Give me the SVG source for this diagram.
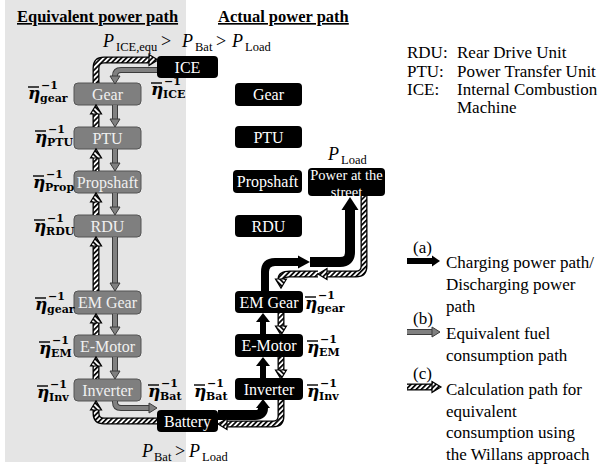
<svg xmlns="http://www.w3.org/2000/svg" width="609" height="467" viewBox="0 0 609 467">
<defs>
<style>
.bg{fill:#fff}
.panel{fill:#e5e5e5}
.gb rect{fill:#7f7f7f;stroke:#555;stroke-width:1}
.gb text{fill:#f0f0f0}
.kb rect{fill:#000}
.kb text{fill:#fff}
.bt{font-family:"Liberation Serif",serif;font-size:16px;text-anchor:middle}
.ttl{font-family:"Liberation Serif",serif;font-weight:bold;font-size:16.5px;text-decoration:underline}
.leg{font-family:"Liberation Serif",serif;font-size:17px;fill:#000}
.eta{font-family:"DejaVu Serif",serif;font-weight:bold;font-style:italic;font-size:17px}
.ss{font-family:"DejaVu Serif",serif;font-weight:bold;font-size:11px;font-style:normal}
.ob{stroke:#000;stroke-width:1.4}
.math{font-family:"Liberation Serif",serif;font-size:18px}
.mi{font-style:italic}
.ms{font-size:12.5px}
.ho{fill:none;stroke:#000;stroke-width:7}
.hi{fill:none;stroke:url(#hatch);stroke-width:4.4}
.go{fill:none;stroke:#3c3c3c;stroke-width:6}
.gi{fill:none;stroke:#808080;stroke-width:4}
.bk{fill:none;stroke:#000}
</style>
<pattern id="hatch" width="3.6" height="3.6" patternUnits="userSpaceOnUse" patternTransform="rotate(45)">
<rect width="3.6" height="3.6" fill="#fff"/><rect width="1.7" height="3.6" fill="#000"/>
</pattern>
<marker id="mh" markerUnits="userSpaceOnUse" markerWidth="12" markerHeight="14" refX="0" refY="0" orient="auto" overflow="visible">
<path d="M0,-5.5 L9,0 L0,5.5 Z" fill="url(#hatch)" stroke="#000" stroke-width="1.2"/>
</marker>
<marker id="mg" markerUnits="userSpaceOnUse" markerWidth="12" markerHeight="14" refX="0" refY="0" orient="auto" overflow="visible">
<path d="M0,-5 L8,0 L0,5 Z" fill="#808080" stroke="#3c3c3c" stroke-width="1"/>
</marker>
<marker id="mb1" markerUnits="userSpaceOnUse" markerWidth="12" markerHeight="16" refX="0" refY="0" orient="auto" overflow="visible">
<path d="M0,-7 L9,0 L0,7 Z" fill="#000"/>
</marker>
<marker id="mb2" markerUnits="userSpaceOnUse" markerWidth="14" markerHeight="16" refX="0" refY="0" orient="auto" overflow="visible">
<path d="M0,-6.5 L12,0 L0,6.5 Z" fill="#000"/>
</marker>
<marker id="mb3" markerUnits="userSpaceOnUse" markerWidth="14" markerHeight="20" refX="0" refY="0" orient="auto" overflow="visible">
<path d="M0,-8.5 L13,0 L0,8.5 Z" fill="#000"/>
</marker>
<marker id="mbl" markerUnits="userSpaceOnUse" markerWidth="10" markerHeight="14" refX="0" refY="0" orient="auto" overflow="visible">
<path d="M0,-5.5 L8,0 L0,5.5 Z" fill="#000"/>
</marker>
</defs>

<rect class="bg" x="0" y="0" width="609" height="467"/>
<rect class="panel" x="5" y="0" width="181" height="462"/>

<text class="ttl" x="17" y="22">Equivalent power path</text>
<text class="ttl" x="218" y="22">Actual power path</text>

<text class="math"><tspan class="mi" x="103" y="47">P</tspan><tspan class="ms" x="116" y="51">ICE,equ</tspan><tspan x="161" y="47">&gt;</tspan><tspan class="mi" x="182" y="47">P</tspan><tspan class="ms" x="195" y="51">Bat</tspan><tspan x="216" y="47">&gt;</tspan><tspan class="mi" x="232" y="47">P</tspan><tspan class="ms" x="245" y="51">Load</tspan></text>
<text class="math"><tspan class="mi" x="142" y="457">P</tspan><tspan class="ms" x="154" y="461">Bat</tspan><tspan x="175" y="457">&gt;</tspan><tspan class="mi" x="189" y="457">P</tspan><tspan class="ms" x="202" y="461">Load</tspan></text>
<text class="math"><tspan class="mi" x="328" y="160">P</tspan><tspan class="ms" x="341" y="164">Load</tspan></text>

<!-- Equivalent path nodes -->
<g id="ice" class="kb"><rect x="157" y="56" width="61" height="22" rx="4"/><text class="bt" x="187.5" y="72.5">ICE</text></g>
<g id="gear-eq" class="gb"><rect x="74" y="83" width="67" height="22" rx="4"/><text class="bt" x="107.5" y="99.5">Gear</text></g>
<g id="ptu-eq" class="gb"><rect x="74" y="127" width="67" height="22" rx="4"/><text class="bt" x="107.5" y="143.5">PTU</text></g>
<g id="prop-eq" class="gb"><rect x="74" y="171" width="67" height="22" rx="4"/><text class="bt" x="107.5" y="187.5">Propshaft</text></g>
<g id="rdu-eq" class="gb"><rect x="74" y="215" width="67" height="22" rx="4"/><text class="bt" x="107.5" y="231.5">RDU</text></g>
<g id="emgear-eq" class="gb"><rect x="74" y="291" width="67" height="23" rx="4"/><text class="bt" x="107.5" y="308">EM Gear</text></g>
<g id="emotor-eq" class="gb"><rect x="74" y="335" width="67" height="22" rx="4"/><text class="bt" x="107.5" y="351.5">E-Motor</text></g>
<g id="inverter-eq" class="gb"><rect x="74" y="379" width="67" height="22" rx="4"/><text class="bt" x="107.5" y="395.5">Inverter</text></g>
<g id="battery" class="kb"><rect x="157" y="410" width="61" height="22" rx="4"/><text class="bt" x="187.5" y="426.5">Battery</text></g>

<!-- Actual path nodes -->
<g id="gear-act" class="kb"><rect x="235" y="83" width="67" height="23" rx="4"/><text class="bt" x="268.5" y="100">Gear</text></g>
<g id="ptu-act" class="kb"><rect x="235" y="126" width="67" height="22" rx="4"/><text class="bt" x="268.5" y="142.5">PTU</text></g>
<g id="prop-act" class="kb"><rect x="233" y="170" width="69" height="23" rx="4"/><text class="bt" x="267.5" y="187">Propshaft</text></g>
<g id="rdu-act" class="kb"><rect x="235" y="215" width="67" height="22" rx="4"/><text class="bt" x="268.5" y="231.5">RDU</text></g>
<g id="street" class="kb"><rect x="308" y="168" width="77" height="28" rx="4"/><text class="bt" style="font-size:14.5px" x="346.5" y="180">Power at the</text><text class="bt" style="font-size:14.5px" x="346.5" y="197">street</text></g>
<g id="emgear-act" class="kb"><rect x="235" y="291" width="68" height="22" rx="4"/><text class="bt" x="269" y="307.5">EM Gear</text></g>
<g id="emotor-act" class="kb"><rect x="235" y="334" width="68" height="23" rx="4"/><text class="bt" x="269" y="351">E-Motor</text></g>
<g id="inverter-act" class="kb"><rect x="235" y="378" width="68" height="22" rx="4"/><text class="bt" x="269" y="394.5">Inverter</text></g>

<!-- efficiency labels -->
<g id="eta-labels">
<line class="ob" x1="28" y1="87" x2="39" y2="87"/><text><tspan class="eta" x="28" y="99">η</tspan><tspan class="ss" x="41" y="89">−1</tspan><tspan class="ss" x="40" y="102">gear</tspan></text>
<line class="ob" x1="151" y1="83" x2="162" y2="83"/><text><tspan class="eta" x="151" y="95">η</tspan><tspan class="ss" x="164" y="85">−1</tspan><tspan class="ss" x="163" y="98">ICE</tspan></text>
<line class="ob" x1="35" y1="131" x2="46" y2="131"/><text><tspan class="eta" x="35" y="143">η</tspan><tspan class="ss" x="48" y="133">−1</tspan><tspan class="ss" x="47" y="146">PTU</tspan></text>
<line class="ob" x1="33" y1="176" x2="44" y2="176"/><text><tspan class="eta" x="33" y="188">η</tspan><tspan class="ss" x="46" y="178">−1</tspan><tspan class="ss" x="45" y="191">Prop</tspan></text>
<line class="ob" x1="34" y1="220" x2="45" y2="220"/><text><tspan class="eta" x="34" y="232">η</tspan><tspan class="ss" x="47" y="222">−1</tspan><tspan class="ss" x="46" y="235">RDU</tspan></text>
<line class="ob" x1="35" y1="298" x2="46" y2="298"/><text><tspan class="eta" x="35" y="310">η</tspan><tspan class="ss" x="48" y="300">−1</tspan><tspan class="ss" x="47" y="313">gear</tspan></text>
<line class="ob" x1="39" y1="342" x2="50" y2="342"/><text><tspan class="eta" x="39" y="354">η</tspan><tspan class="ss" x="52" y="344">−1</tspan><tspan class="ss" x="51" y="357">EM</tspan></text>
<line class="ob" x1="37" y1="386" x2="48" y2="386"/><text><tspan class="eta" x="37" y="398">η</tspan><tspan class="ss" x="50" y="388">−1</tspan><tspan class="ss" x="49" y="401">Inv</tspan></text>
<line class="ob" x1="148" y1="385" x2="159" y2="385"/><text><tspan class="eta" x="148" y="397">η</tspan><tspan class="ss" x="161" y="387">−1</tspan><tspan class="ss" x="160" y="400">Bat</tspan></text>
<line class="ob" x1="194" y1="385" x2="205" y2="385"/><text><tspan class="eta" x="194" y="397">η</tspan><tspan class="ss" x="207" y="387">−1</tspan><tspan class="ss" x="206" y="400">Bat</tspan></text>
<line class="ob" x1="305" y1="297" x2="316" y2="297"/><text><tspan class="eta" x="305" y="309">η</tspan><tspan class="ss" x="318" y="299">−1</tspan><tspan class="ss" x="317" y="312">gear</tspan></text>
<line class="ob" x1="307" y1="341" x2="318" y2="341"/><text><tspan class="eta" x="307" y="353">η</tspan><tspan class="ss" x="320" y="343">−1</tspan><tspan class="ss" x="319" y="356">EM</tspan></text>
<line class="ob" x1="307" y1="385" x2="318" y2="385"/><text><tspan class="eta" x="307" y="397">η</tspan><tspan class="ss" x="320" y="387">−1</tspan><tspan class="ss" x="319" y="400">Inv</tspan></text>
</g>

<!-- connectors -->
<g id="connectors">
<path class="ho" d="M96,83 V68 Q96,60 104,60 H149"/><path class="hi" d="M96,83 V68 Q96,60 104,60 H149" marker-end="url(#mh)"/>
<path class="ho" d="M96,127 V114"/><path class="hi" d="M96,127 V114" marker-end="url(#mh)"/>
<path class="ho" d="M96,171 V158"/><path class="hi" d="M96,171 V158" marker-end="url(#mh)"/>
<path class="ho" d="M96,215 V202"/><path class="hi" d="M96,215 V202" marker-end="url(#mh)"/>
<path class="ho" d="M96,291 V246"/><path class="hi" d="M96,291 V246" marker-end="url(#mh)"/>
<path class="ho" d="M96,335 V323"/><path class="hi" d="M96,335 V323" marker-end="url(#mh)"/>
<path class="ho" d="M96,379 V366"/><path class="hi" d="M96,379 V366" marker-end="url(#mh)"/>
<path class="ho" d="M157,421 H104 Q96,421 96,413 V410"/><path class="hi" d="M157,421 H104 Q96,421 96,413 V410" marker-end="url(#mh)"/>
<path class="go" d="M157,70 H121 Q115,70 115,76"/><path class="gi" d="M157,70 H121 Q115,70 115,76" marker-end="url(#mg)"/>
<path class="go" d="M115,105 V119"/><path class="gi" d="M115,105 V119" marker-end="url(#mg)"/>
<path class="go" d="M115,149 V163"/><path class="gi" d="M115,149 V163" marker-end="url(#mg)"/>
<path class="go" d="M115,193 V207"/><path class="gi" d="M115,193 V207" marker-end="url(#mg)"/>
<path class="go" d="M115,237 V283"/><path class="gi" d="M115,237 V283" marker-end="url(#mg)"/>
<path class="go" d="M115,314 V327"/><path class="gi" d="M115,314 V327" marker-end="url(#mg)"/>
<path class="go" d="M115,357 V371"/><path class="gi" d="M115,357 V371" marker-end="url(#mg)"/>
<path class="go" d="M115,401 V402 Q115,408 121,408 H149"/><path class="gi" d="M115,401 V402 Q115,408 121,408 H149" marker-end="url(#mg)"/>
<path class="bk" stroke-width="10" d="M218,415 H255 Q263,415 263,408" marker-end="url(#mb1)"/>
<path class="bk" stroke-width="6" d="M263,378 V366" marker-end="url(#mb1)"/>
<path class="bk" stroke-width="6" d="M263,334 V322" marker-end="url(#mb1)"/>
<path class="bk" stroke-width="8" d="M265,291 V272 Q265,262 275,262 H298" marker-end="url(#mb2)"/>
<path class="bk" stroke-width="10" d="M310,262 H340 Q350,262 350,252 V210" marker-end="url(#mb3)"/>
<path class="ho" d="M364,196 V266 Q364,274 356,274 H327"/><path class="hi" d="M364,196 V266 Q364,274 356,274 H327" marker-end="url(#mh)"/>
<path class="ho" d="M318,274 H290 Q281,274 281,279"/><path class="hi" d="M318,274 H290 Q281,274 281,279" marker-end="url(#mh)"/>
<path class="ho" d="M281,313 V326"/><path class="hi" d="M281,313 V326" marker-end="url(#mh)"/>
<path class="ho" d="M281,357 V370"/><path class="hi" d="M281,357 V370" marker-end="url(#mh)"/>
<path class="ho" d="M281,400 V416 Q281,424 273,424 H227"/><path class="hi" d="M281,400 V416 Q281,424 273,424 H227" marker-end="url(#mh)"/>
</g>

<!-- legend -->
<g id="legend-abbr">
<text class="leg" x="407" y="58">RDU:</text><text class="leg" x="457" y="58">Rear Drive Unit</text>
<text class="leg" x="407" y="77">PTU:</text><text class="leg" x="457" y="77">Power Transfer Unit</text>
<text class="leg" x="407" y="95">ICE:</text><text class="leg" x="457" y="95">Internal Combustion</text>
<text class="leg" x="457" y="113">Machine</text>
</g>
<g id="legend-a">
<text class="leg" x="413" y="253">(a)</text>
<path class="bk" stroke-width="6" d="M407,261 H432" marker-end="url(#mbl)"/>
<text class="leg" x="446" y="268">Charging power path/</text>
<text class="leg" x="446" y="290">Discharging power</text>
<text class="leg" x="446" y="312">path</text>
</g>
<g id="legend-b">
<text class="leg" x="413" y="324">(b)</text>
<path class="go" stroke-width="5" d="M407,332 H432"/><path class="gi" stroke-width="3" d="M407,332 H432" marker-end="url(#mg)"/>
<text class="leg" x="446" y="339">Equivalent fuel</text>
<text class="leg" x="446" y="361">consumption path</text>
</g>
<g id="legend-c">
<text class="leg" x="413" y="379">(c)</text>
<path class="ho" stroke-width="6" d="M407,387 H432"/><path class="hi" stroke-width="3.6" d="M407,387 H432" marker-end="url(#mh)"/>
<text class="leg" x="446" y="395">Calculation path for</text>
<text class="leg" x="446" y="417">equivalent</text>
<text class="leg" x="446" y="438">consumption using</text>
<text class="leg" x="446" y="460">the Willans approach</text>
</g>
</svg>
